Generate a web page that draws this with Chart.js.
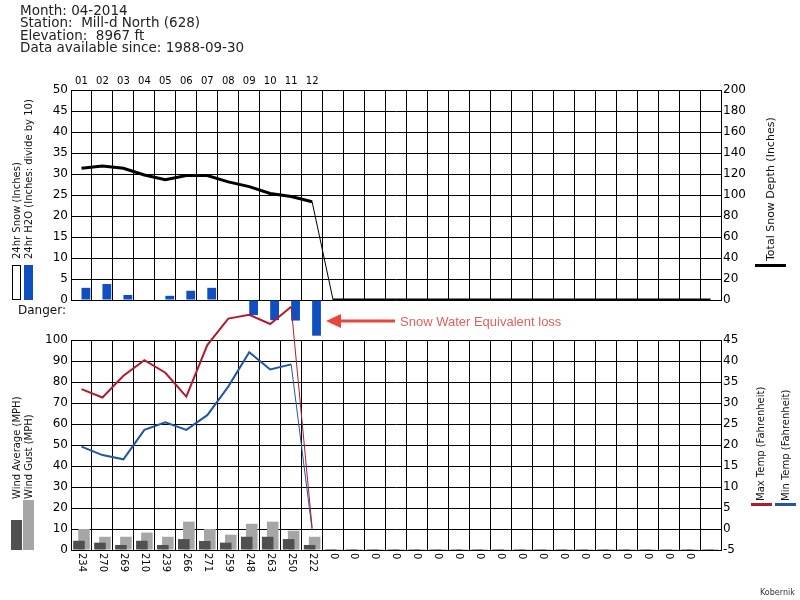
<!DOCTYPE html>
<html>
<head>
<meta charset="utf-8">
<title>Mill-d North (628) - 04-2014</title>
<script src="https://cdn.jsdelivr.net/npm/chart.js@4.4.0/dist/chart.umd.min.js"></script>
<style>
    body { margin: 0; background: #fff; font-family: "DejaVu Sans", Verdana, sans-serif; color: #000; }
    #page { position: relative; width: 800px; height: 600px; overflow: hidden; }
    #top-chart { position: absolute; left: 0; top: 0; }
    #bottom-chart { position: absolute; left: 0; top: 300px; }
    .info { position: absolute; left: 20px; top: 4px; font-size: 13.5px; line-height: 12.3px; white-space: pre; color: #222; }
    .vlabel { position: absolute; transform-origin: left top; transform: rotate(-90deg); white-space: nowrap; font-size: 10px; line-height: 11px; color: #111; }
    .swatch { position: absolute; box-sizing: border-box; }
    .danger { position: absolute; left: 18px; top: 303px; font-size: 12px; color: #111; }
    .note { position: absolute; left: 400px; top: 314px; font-family: "Liberation Sans", Arial, sans-serif; font-size: 13px; color: #e05f5f; white-space: nowrap; }
    .credit { position: absolute; left: 760px; top: 588px; font-size: 8px; color: #333; }
    #arrow { position: absolute; left: 0; top: 0; }
</style>
</head>
<body>
<div id="page">
    <canvas id="top-chart" width="800" height="345"></canvas>
    <canvas id="bottom-chart" width="800" height="300"></canvas>

    <div class="info">Month: 04-2014
Station:  Mill-d North (628)
Elevation:  8967 ft
Data available since: 1988-09-30</div>

    <!-- left legends -->
    <div class="vlabel" style="left:11px; top:259px;">24hr Snow (Inches)</div>
    <div class="vlabel" style="left:23px; top:259px;">24hr H2O (Inches: divide by 10)</div>
    <div class="swatch" style="left:12px; top:265px; width:9px; height:35px; border:1px solid #000; background:#fff;"></div>
    <div class="swatch" style="left:24px; top:265px; width:9px; height:35px; background:#0f4fc2;"></div>

    <div class="vlabel" style="left:11px; top:499px;">Wind Average (MPH)</div>
    <div class="vlabel" style="left:23px; top:499px;">Wind Gust (MPH)</div>
    <div class="swatch" style="left:11px; top:520px; width:11px; height:30px; background:#505050;"></div>
    <div class="swatch" style="left:23px; top:500px; width:11px; height:50px; background:#a6a6a6;"></div>

    <!-- right legends -->
    <div class="vlabel" style="left:765px; top:261px; font-size:11px; line-height:12px;">Total Snow Depth (Inches)</div>
    <div class="swatch" style="left:755px; top:264px; width:31px; height:3px; background:#000;"></div>

    <div class="vlabel" style="left:755px; top:501px;">Max Temp (Fahrenheit)</div>
    <div class="vlabel" style="left:780px; top:501px;">Min Temp (Fahrenheit)</div>
    <div class="swatch" style="left:751px; top:503px; width:21px; height:3px; background:#b01c2e;"></div>
    <div class="swatch" style="left:775px; top:503px; width:21px; height:3px; background:#1f56a8;"></div>

    <div class="danger">Danger:</div>

    <svg id="arrow" width="800" height="600">
        <line x1="395" y1="321" x2="338" y2="321" stroke="#e8453c" stroke-width="3"/>
        <polygon points="326,321 341,314 341,328" fill="#e8453c"/>
    </svg>
    <div class="note">Snow Water Equivalent loss</div>

    <div class="credit">Kobernik</div>
</div>

<script>
// day slots (31 columns, only the first 12 days have data)
const topDayLabels = ['01', '02', '03', '04', '05', '06', '07', '08', '09', '10', '11', '12',
    '', '', '', '', '', '', '', '', '', '', '', '', '', '', '', '', '', '', ''];

// wind direction labels under the bottom chart
const windDirLabels = ['234', '270', '269', '210', '239', '266', '271', '259', '248', '263', '250', '222',
    '0', '0', '0', '0', '0', '0', '0', '0', '0', '0', '0', '0', '0', '0', '0', '0', '0', '0', ''];

// 24hr snow (inches)
const snow24 = [0, 0, 0, 0, 0, 0, 0, 0, 0, 0, 0, 0, 0, 0, 0, 0,
    0, 0, 0, 0, 0, 0, 0, 0, 0, 0, 0, 0, 0, 0, 0];

// 24hr H2O (inches, divide by 10)
const h2o24 = [2.9, 3.8, 1.2, 0, 1.0, 2.2, 2.9, 0, -3.6, -4.8, -4.9, -8.5,
    0, 0, 0, 0, 0, 0, 0, 0, 0, 0, 0, 0, 0, 0, 0, 0, 0, 0, 0];

// total snow depth (inches)
const snowDepth = [125.5, 127.5, 125.5, 119, 114.5, 118.5, 118.5, 112.5, 108, 101.5, 98.5, 93.5,
    0, 0, 0, 0, 0, 0, 0, 0, 0, 0, 0, 0, 0, 0, 0, 0, 0, 0, 0];

// wind (mph)
const windAvg = [4.4, 3.5, 2.4, 4.4, 2.4, 5.2, 4.3, 3.5, 6.3, 6.3, 5.2, 2.4,
    0, 0, 0, 0, 0, 0, 0, 0, 0, 0, 0, 0, 0, 0, 0, 0, 0, 0, 0];
const windGust = [10, 6.3, 6.3, 8.3, 6.3, 13.5, 10, 7.3, 12.5, 13.5, 9.2, 6.3,
    0, 0, 0, 0, 0, 0, 0, 0, 0, 0, 0, 0, 0, 0, 0, 0, 0, 0, 0];

// temperature (fahrenheit)
const maxTemp = [33.3, 31.3, 36.5, 40.2, 37.2, 31.5, 43.8, 50.1, 51, 48.8, 52.9, 0.3];
const minTemp = [19.6, 17.6, 16.6, 23.6, 25.4, 23.6, 27.1, 33.9, 42.1, 38, 39.2, -0.2];

Chart.defaults.font.family = '"DejaVu Sans", Verdana, sans-serif';
Chart.defaults.color = '#000';

/**
 * draws the wind direction labels rotated clockwise under the x axis
 */
const windDirPlugin = {
    id: 'windDirLabels',
    afterDraw(chart) {
        const ctx = chart.ctx;
        const xScale = chart.scales.x;
        const labels = chart.data.labels;
        ctx.save();
        ctx.font = '10px "DejaVu Sans"';
        ctx.fillStyle = '#000';
        ctx.textAlign = 'left';
        ctx.textBaseline = 'middle';
        labels.forEach((label, i) => {
            if (!label) return;
            ctx.save();
            ctx.translate(xScale.getPixelForValue(i), chart.chartArea.bottom + 3);
            ctx.rotate(Math.PI / 2);
            ctx.fillText(label, 0, 0);
            ctx.restore();
        });
        ctx.restore();
    }
};

class SnowStationCharts {
    constructor() {
        this.topChart = null;
        this.bottomChart = null;
    }

    initialize() {
        this.initTopChart();
        this.initBottomChart();
    }

    /**
     * common grid style
     * @private
     */
    gridOpts(onChart = true) {
        return { color: '#000', lineWidth: 1, drawTicks: false, drawOnChartArea: onChart };
    }

    /**
     * snow / H2O / depth chart
     * @private
     */
    initTopChart() {
        const ctx = document.getElementById('top-chart').getContext('2d');

        this.topChart = new Chart(ctx, {
            type: 'bar',
            data: {
                labels: topDayLabels,
                datasets: [
                    {
                        type: 'line',
                        label: 'Total Snow Depth (Inches)',
                        data: snowDepth,
                        yAxisID: 'y2',
                        borderColor: '#000',
                        borderWidth: 3,
                        pointRadius: 0,
                        tension: 0,
                        segment: {
                            borderWidth: c => c.p1DataIndex === 12 ? 1 : 3
                        }
                    },
                    {
                        label: '24hr Snow (Inches)',
                        data: snow24,
                        yAxisID: 'y',
                        backgroundColor: '#fff',
                        borderColor: '#000',
                        borderWidth: 1,
                        categoryPercentage: 0.84,
                        barPercentage: 1.0
                    },
                    {
                        label: '24hr H2O (Inches: divide by 10)',
                        data: h2o24,
                        yAxisID: 'y',
                        backgroundColor: '#0f4fc2',
                        categoryPercentage: 0.84,
                        barPercentage: 1.0,
                        clip: false
                    }
                ]
            },
            options: {
                responsive: false,
                animation: false,
                layout: { padding: { bottom: 45 } },
                plugins: { legend: { display: false }, tooltip: { enabled: false } },
                scales: {
                    x: {
                        position: 'top',
                        offset: true,
                        grid: this.gridOpts(),
                        border: { color: '#000' },
                        ticks: { font: { size: 10 }, padding: 3, maxRotation: 0, autoSkip: false },
                        afterFit: scale => { scale.height = 90; }
                    },
                    y: {
                        position: 'left',
                        min: 0,
                        max: 50,
                        grid: this.gridOpts(),
                        border: { color: '#000' },
                        ticks: { stepSize: 5, font: { size: 12 }, padding: 3 },
                        afterFit: scale => { scale.width = 71; }
                    },
                    y2: {
                        position: 'right',
                        min: 0,
                        max: 200,
                        grid: this.gridOpts(false),
                        border: { color: '#000' },
                        ticks: { stepSize: 20, font: { size: 12 }, padding: 2 },
                        afterFit: scale => { scale.width = 79; }
                    }
                }
            }
        });
    }

    /**
     * wind / temperature chart
     * @private
     */
    initBottomChart() {
        const ctx = document.getElementById('bottom-chart').getContext('2d');

        this.bottomChart = new Chart(ctx, {
            type: 'bar',
            data: {
                labels: windDirLabels,
                datasets: [
                    {
                        type: 'line',
                        label: 'Max Temp (Fahrenheit)',
                        data: maxTemp,
                        yAxisID: 'y2',
                        borderColor: '#b01c2e',
                        borderWidth: 2,
                        pointRadius: 0,
                        clip: false,
                        segment: {
                            borderWidth: c => c.p1DataIndex === 11 ? 1 : 2
                        }
                    },
                    {
                        type: 'line',
                        label: 'Min Temp (Fahrenheit)',
                        data: minTemp,
                        yAxisID: 'y2',
                        borderColor: '#1f56a8',
                        borderWidth: 2,
                        pointRadius: 0,
                        clip: false,
                        segment: {
                            borderWidth: c => c.p1DataIndex === 11 ? 1 : 2
                        }
                    },
                    {
                        label: 'Wind Average (MPH)',
                        data: windAvg,
                        yAxisID: 'y',
                        backgroundColor: '#505050',
                        categoryPercentage: 0.48,
                        barPercentage: 2.3,
                        minBarLength: 1
                    },
                    {
                        label: 'Wind Gust (MPH)',
                        data: windGust,
                        yAxisID: 'y',
                        backgroundColor: '#a6a6a6',
                        categoryPercentage: 0.48,
                        barPercentage: 2.3,
                        minBarLength: 1
                    }
                ]
            },
            options: {
                responsive: false,
                animation: false,
                layout: { padding: { top: 40 } },
                plugins: { legend: { display: false }, tooltip: { enabled: false } },
                scales: {
                    x: {
                        position: 'bottom',
                        offset: true,
                        grid: this.gridOpts(),
                        border: { color: '#000' },
                        ticks: { display: false },
                        afterFit: scale => { scale.height = 50; }
                    },
                    y: {
                        position: 'left',
                        min: 0,
                        max: 100,
                        grid: this.gridOpts(),
                        border: { color: '#000' },
                        ticks: { stepSize: 10, font: { size: 12 }, padding: 3 },
                        afterFit: scale => { scale.width = 71; }
                    },
                    y2: {
                        position: 'right',
                        min: -5,
                        max: 45,
                        grid: this.gridOpts(false),
                        border: { color: '#000' },
                        ticks: { stepSize: 5, font: { size: 12 }, padding: 2 },
                        afterFit: scale => { scale.width = 79; }
                    }
                }
            },
            plugins: [windDirPlugin]
        });
    }
}

const stationCharts = new SnowStationCharts();
stationCharts.initialize();
</script>
</body>
</html>
